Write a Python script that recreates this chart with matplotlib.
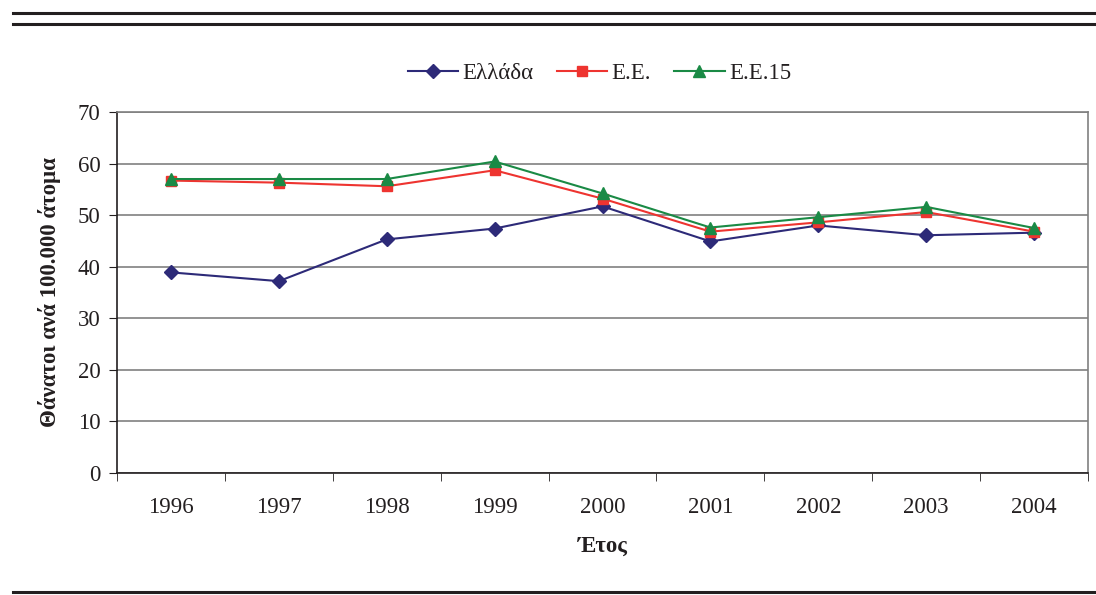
import matplotlib
matplotlib.use("Agg")
import matplotlib.pyplot as plt
from matplotlib.lines import Line2D
import numpy as np

years = ["1996", "1997", "1998", "1999", "2000", "2001", "2002", "2003", "2004"]
greece = [38.9, 37.2, 45.3, 47.4, 51.7, 44.9, 48.0, 46.1, 46.6]
eu = [56.7, 56.3, 55.6, 58.7, 53.2, 46.8, 48.6, 50.6, 46.8]
eu15 = [57.0, 57.0, 57.0, 60.4, 54.2, 47.6, 49.6, 51.6, 47.5]

plt.rcParams['font.family'] = ['Liberation Serif', 'DejaVu Serif']

fig = plt.figure(figsize=(10.96, 5.95), dpi=100)
ax = fig.add_axes([0.1068, 0.205, 0.9927 - 0.1068, 0.8118 - 0.205])

x = np.arange(len(years))
ax.plot(x, greece, color='#2d2a78', marker='D', markersize=7, lw=1.5, label='Ελλάδα')
ax.plot(x, eu, color='#ee3430', marker='s', markersize=7, lw=1.5, label='Ε.Ε.')
ax.plot(x, eu15, color='#1a8a45', marker='^', markersize=9, lw=1.5, label='Ε.Ε.15')

ax.set_xlim(-0.5, len(years) - 0.5)
ax.set_ylim(0, 70)
ax.set_yticks(range(0, 71, 10))
ax.set_xticks(x)
ax.set_xticklabels(years)
ax.set_xticks(np.arange(-0.5, len(years), 1), minor=True)
ax.tick_params(axis='x', which='major', length=0, pad=17, labelsize=16.5, colors='#231f20')
ax.tick_params(axis='x', which='minor', length=6, direction='out', color='#231f20')
ax.tick_params(axis='y', length=6, direction='out', pad=6, labelsize=16.5, colors='#231f20')
ax.yaxis.grid(True, color='#808080', lw=1.2)
ax.set_axisbelow(True)

for s in ['left', 'bottom']:
    ax.spines[s].set_color('#231f20')
    ax.spines[s].set_linewidth(1.2)
for s in ['right', 'top']:
    ax.spines[s].set_color('#808080')
    ax.spines[s].set_linewidth(1.2)

ax.set_ylabel('Θάνατοι ανά 100.000 άτομα', fontsize=16.5, fontweight='bold', labelpad=12, color='#231f20')
ax.set_xlabel('Έτος', fontsize=16.5, fontweight='bold', labelpad=13, color='#231f20')

leg = fig.legend(loc='center', bbox_to_anchor=(0.547, 0.877), ncol=3, frameon=False,
                 fontsize=16.5, handlelength=2.2, columnspacing=1.0, handletextpad=0.2)
for t in leg.get_texts():
    t.set_color('#231f20')

# decorative rules above and below
for yy in [1 - 12.7 / 595, 1 - 24 / 595, 1 - 591.5 / 595]:
    fig.add_artist(Line2D([13 / 1096, 1], [yy, yy], transform=fig.transFigure,
                          color='#231f20', lw=2.2))

fig.savefig('out.png', dpi=100)
